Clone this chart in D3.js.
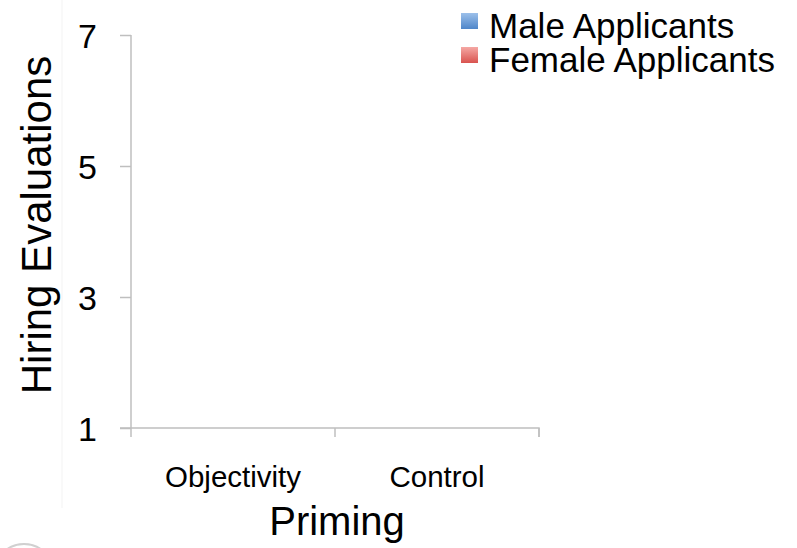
<!DOCTYPE html>
<html>
<head>
<meta charset="utf-8">
<script src="https://cdn.jsdelivr.net/npm/d3@7/dist/d3.min.js"></script>
<style>
  body { margin: 0; background: #fff; }
  svg { display: block; font-family: "Liberation Sans", Arial, sans-serif; }
  .axis path, .axis line { stroke: #bfbfbf; stroke-width: 1.5; }
  .axis text { fill: #000; }
</style>
</head>
<body>
<svg id="chart-svg" width="797" height="548"></svg>
<script>
////////////////////////////////////////////////////////////////////////////////
// data (the slide shows empty axes: no bars were drawn)
var categories = ["Objectivity", "Control"];
var seriesNames = ["Male Applicants", "Female Applicants"];
var maleValues = [null, null];
var femaleValues = [null, null];
var yTicks = [1, 3, 5, 7];
var seriesColors = [["#9cc0ea", "#4f86c9"], ["#f5a8a4", "#d9534f"]];

////////////////////////////////////////////////////////////////////////////////
const svg = d3.select("#chart-svg");
var plot_left = 131, plot_right = 539, plot_top = 35, plot_bottom = 428;

var x = d3.scaleBand().domain(categories).range([plot_left, plot_right]);
var xInner = d3.scaleBand().domain(seriesNames).range([0, x.bandwidth()]).paddingInner(0.05).paddingOuter(0.3);
var y = d3.scaleLinear().domain([1, 7]).range([plot_bottom, plot_top]);

// gradients for legend swatches / bars
var defs = svg.append("defs");
seriesColors.forEach(function(c, i) {
  var g = defs.append("linearGradient").attr("id", "grad" + i)
      .attr("x1", 0).attr("y1", 0).attr("x2", 0).attr("y2", 1);
  g.append("stop").attr("offset", "0%").attr("stop-color", c[0]);
  g.append("stop").attr("offset", "100%").attr("stop-color", c[1]);
});

// faint slide artifacts
svg.append("line").attr("x1", 62).attr("x2", 62).attr("y1", 0).attr("y2", 508)
   .attr("stroke", "#f3f3f3").attr("stroke-width", 1);
svg.append("circle").attr("cx", 24).attr("cy", 574).attr("r", 30)
   .attr("fill", "none").attr("stroke", "#d0d0d0").attr("stroke-width", 2);

// bars (none have values)
var bars = [];
categories.forEach(function(c, i) {
  [maleValues, femaleValues].forEach(function(vals, s) {
    if (vals[i] != null) bars.push({cat: c, s: s, v: vals[i]});
  });
});
svg.selectAll(".bar")
   .data(bars)
   .enter()
   .append("rect")
   .attr("class", "bar")
   .attr("x", function(d) { return x(d.cat) + xInner(seriesNames[d.s]); })
   .attr("y", function(d) { return y(d.v); })
   .attr("width", xInner.bandwidth())
   .attr("height", function(d) { return y(1) - y(d.v); })
   .attr("fill", function(d) { return "url(#grad" + d.s + ")"; });

// y axis
var gy = svg.append("g").attr("class", "axis")
    .attr("transform", "translate(" + plot_left + ",0)")
    .call(d3.axisLeft(y).tickValues(yTicks).tickFormat(d3.format("d"))
            .tickSize(11).tickSizeOuter(0).tickPadding(23));
gy.select(".domain").attr("d", "M0," + plot_top + "V" + (plot_bottom + 9));
gy.selectAll("text").attr("font-size", 34).attr("dy", "0.36em");

// x axis
var gx = svg.append("g").attr("class", "axis")
    .attr("transform", "translate(0," + plot_bottom + ")")
    .call(d3.axisBottom(x).tickSize(0).tickPadding(38));
gx.select(".domain").attr("d", "M" + plot_right + ",9V0H" + (plot_left - 11));
gx.selectAll("text").attr("font-size", 29.5);
var edges = [x(categories[0])].concat(categories.map(function(c) { return x(c) + x.bandwidth(); }));
gx.selectAll(".edge")
  .data(edges.slice(1))
  .enter()
  .append("line")
  .attr("x1", function(d) { return d; }).attr("x2", function(d) { return d; })
  .attr("y1", 0).attr("y2", 9);

// axis titles
svg.append("text")
   .attr("x", (plot_left + plot_right) / 2 + 2).attr("y", 535)
   .attr("text-anchor", "middle").attr("font-size", 40)
   .text("Priming");
svg.append("text")
   .attr("transform", "translate(51,225) rotate(-90)")
   .attr("text-anchor", "middle").attr("font-size", 42)
   .text("Hiring Evaluations");

// legend
var legend = svg.selectAll(".legend")
    .data(seriesNames)
    .enter()
    .append("g")
    .attr("class", "legend")
    .attr("transform", function(d, i) { return "translate(461," + (13 + i * 34) + ")"; });
legend.append("rect")
      .attr("width", 17).attr("height", 16)
      .attr("fill", function(d, i) { return "url(#grad" + i + ")"; });
legend.append("text")
      .attr("x", 28).attr("y", 25)
      .attr("font-size", 35)
      .text(function(d) { return d; });
</script>
</body>
</html>
